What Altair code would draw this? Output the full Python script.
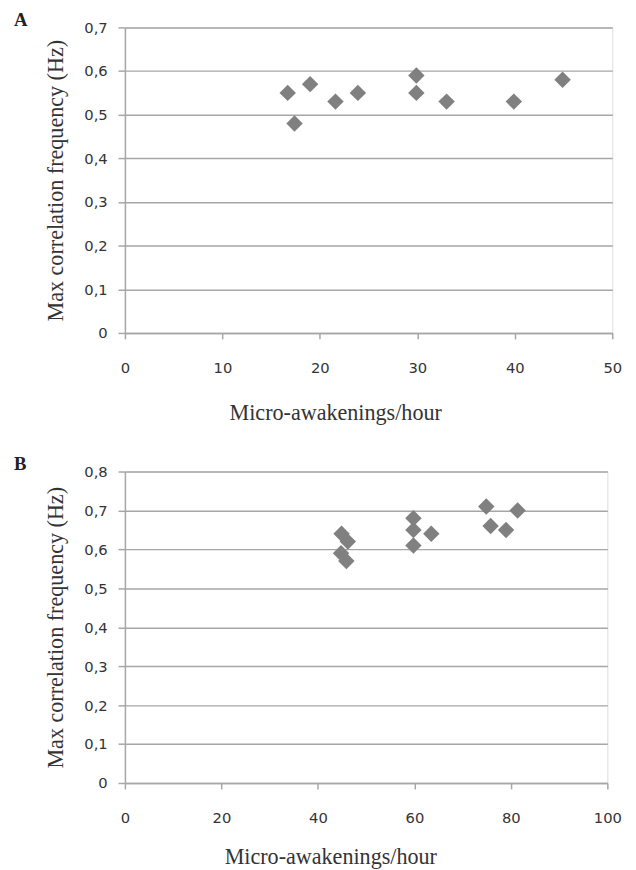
import altair as alt
import pandas as pd

# Panel A data
a_x = [16.7, 17.4, 19.0, 21.6, 23.9, 29.9, 29.9, 33.0, 39.9, 44.9]
a_y = [0.55, 0.48, 0.57, 0.53, 0.55, 0.59, 0.55, 0.53, 0.53, 0.58]

# Panel B data
b_x = [44.9, 46.2, 44.8, 45.9, 59.8, 59.8, 59.8, 63.5, 74.9, 75.8, 79.0, 81.4]
b_y = [0.64, 0.62, 0.59, 0.57, 0.68, 0.65, 0.61, 0.64, 0.71, 0.66, 0.65, 0.70]

a_xticks = [0, 10, 20, 30, 40, 50]
b_xticks = [0, 20, 40, 60, 80, 100]
a_yticks = [0, 0.1, 0.2, 0.3, 0.4, 0.5, 0.6, 0.7]
b_yticks = [0, 0.1, 0.2, 0.3, 0.4, 0.5, 0.6, 0.7, 0.8]

x_title = "Micro-awakenings/hour"
y_title = "Max correlation frequency (Hz)"

SERIF = "Liberation Serif"
SANS = "DejaVu Sans"
GRID = "#a6a6a6"
TXT = "#333333"
PT = "#808080"

label_expr = "datum.value == 0 ? '0' : replace(format(datum.value, '.1f'), '.', ',')"


def panel(xs, ys, letter, xticks, yticks, width, height, title_x, title_y):
    df = pd.DataFrame({"x": xs, "y": ys})
    return (
        alt.Chart(df)
        .mark_point(shape="diamond", filled=True, size=280, color=PT, opacity=1)
        .encode(
            x=alt.X(
                "x:Q",
                scale=alt.Scale(domain=[xticks[0], xticks[-1]], nice=False),
                axis=alt.Axis(
                    values=xticks,
                    grid=False,
                    domainColor=GRID,
                    domainWidth=1.5,
                    tickColor=GRID,
                    tickWidth=1.5,
                    tickSize=6,
                    labelFont=SANS,
                    labelFontSize=15,
                    labelColor=TXT,
                    labelPadding=22,
                    labelFlush=False,
                    title=x_title,
                    titleFont=SERIF,
                    titleFontSize=22.5,
                    titleFontWeight="normal",
                    titleColor=TXT,
                    titleX=title_x,
                    titleY=title_y,
                    titleBaseline="alphabetic",
                ),
            ),
            y=alt.Y(
                "y:Q",
                scale=alt.Scale(domain=[yticks[0], yticks[-1]], nice=False),
                axis=alt.Axis(
                    values=yticks,
                    labelExpr=label_expr,
                    grid=True,
                    gridColor=GRID,
                    gridWidth=1.5,
                    domainColor=GRID,
                    domainWidth=1.5,
                    tickColor=GRID,
                    tickWidth=1.5,
                    tickSize=7,
                    labelFont=SANS,
                    labelFontSize=15,
                    labelColor=TXT,
                    labelPadding=11,
                    labelFlush=False,
                    title=y_title,
                    titleFont=SERIF,
                    titleFontSize=22.5,
                    titleFontWeight="normal",
                    titleColor=TXT,
                    titlePadding=17,
                ),
            ),
        )
        .properties(
            width=width,
            height=height,
            title=alt.TitleParams(
                text=letter,
                anchor="start",
                frame="group",
                font=SERIF,
                fontSize=19,
                fontWeight="bold",
                color="#222222",
                baseline="alphabetic",
                offset=0,
                dx=-113,
                dy=24.5,
            ),
        )
    )


chart_a = panel(a_x, a_y, "A", a_xticks, a_yticks, 496, 311, 214, 88)
chart_b = panel(b_x, b_y, "B", b_xticks, b_yticks, 491, 317, 209, 82)

chart = (
    alt.vconcat(chart_a, chart_b, spacing=31)
    .properties(padding={"left": 5, "top": -5, "right": 5, "bottom": 5})
    .configure_view(stroke=None)
    .configure(background="white")
)

chart.save("out.html", embed_options={"renderer": "svg", "actions": False})
